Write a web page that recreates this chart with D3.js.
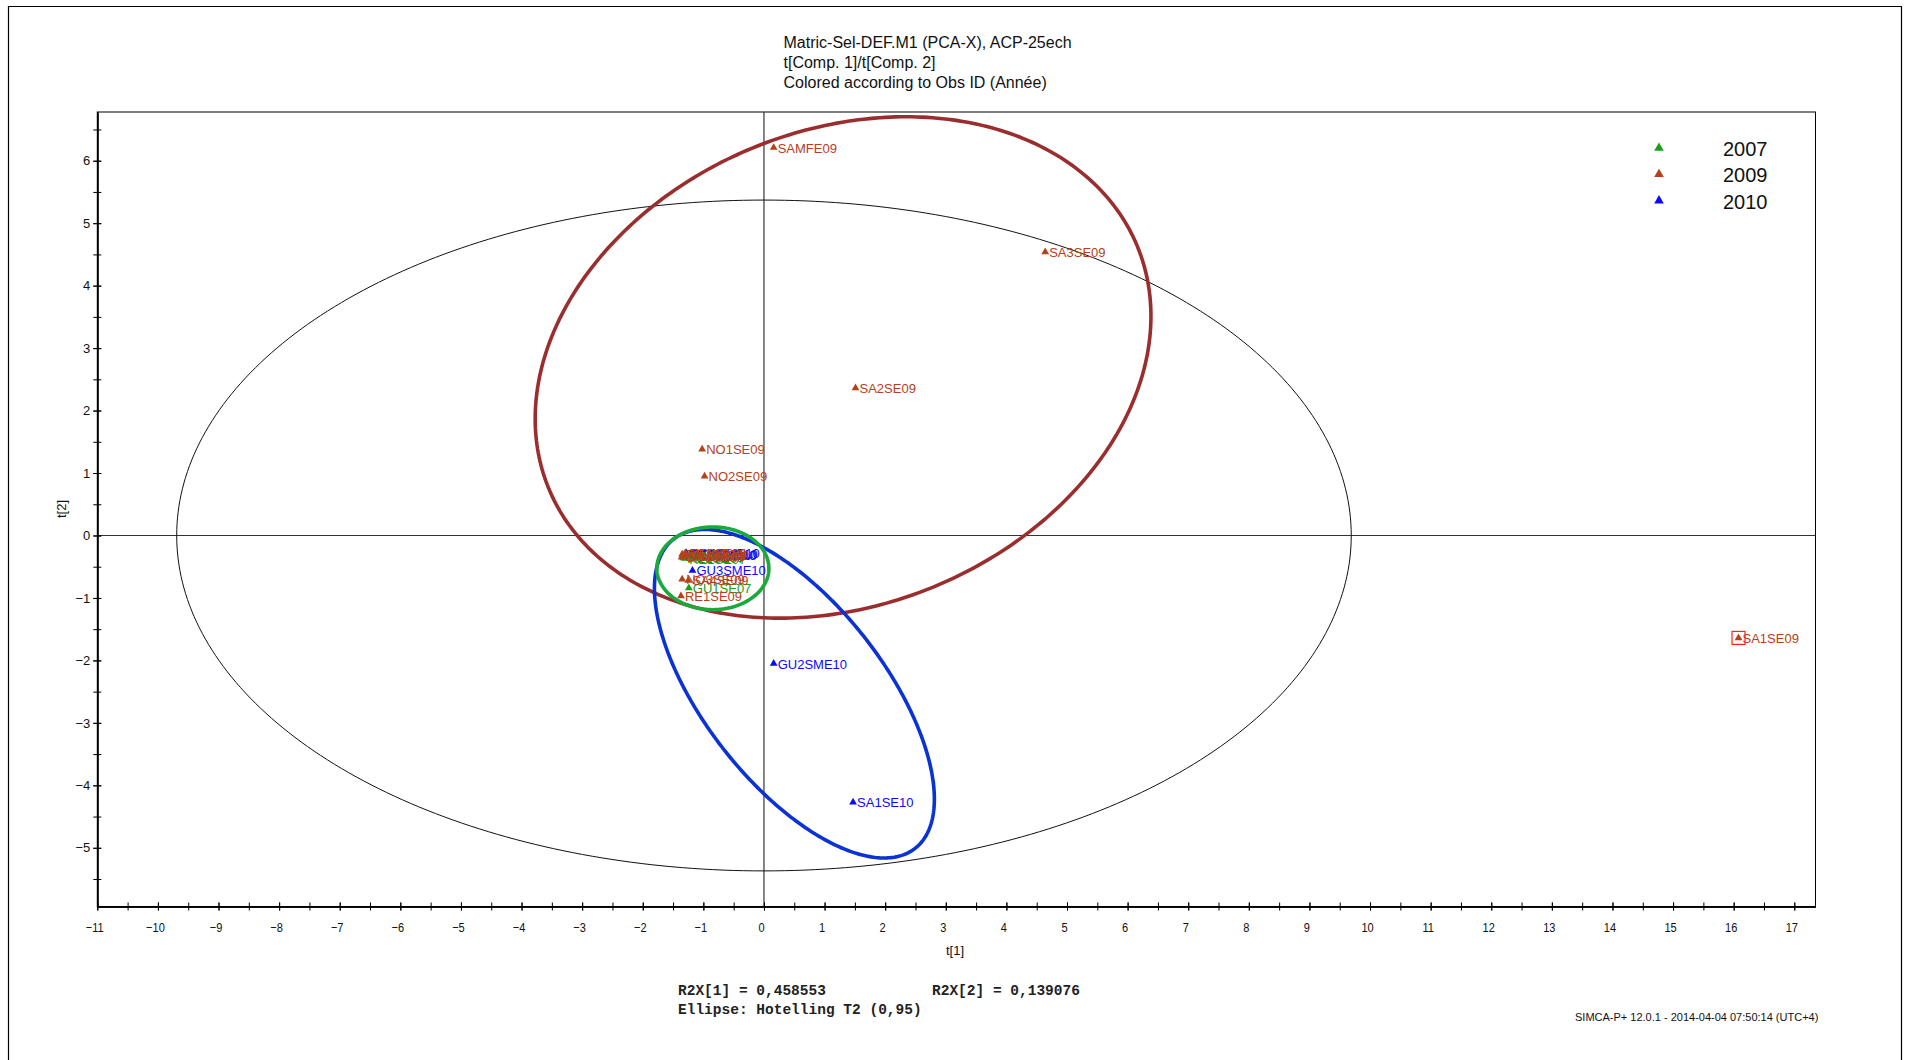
<!DOCTYPE html>
<html><head><meta charset="utf-8">
<script src="https://cdn.jsdelivr.net/npm/d3@7"></script>
<style>
html,body{margin:0;padding:0;background:#fff;}
svg{display:block;}
text{font-family:"Liberation Sans",Arial,sans-serif;}
text.mono{font-family:"Liberation Mono","Courier New",monospace;}
</style></head>
<body>
<svg id="chart" width="1908" height="1060"></svg>
<script>
// ---- data ----
const titleLines = ["Matric-Sel-DEF.M1 (PCA-X), ACP-25ech", "t[Comp. 1]/t[Comp. 2]", "Colored according to Obs ID (Année)"];
const years = ["2007", "2009", "2010"];
const yearColors = ["#17a017", "#b4401c", "#0a0aff"];
const xTicks = d3.range(-11, 18, 1);
const yTicks = d3.range(-5, 7, 1);
const xMinor = d3.range(-11, 17.5, 0.5);
const yMinor = d3.range(-5.5, 7, 0.5);
// observations: name, year, t[1], t[2]
const obsNames = ["RE1SME10","RE2SME10","RE3SME10","GU1SME10","GU3SME10","GU2SME10","SA1SE10",
  "RE1SE07","RE2SE07","RE3SE07","GU1SE07",
  "GU3SE09","GU2SE09","GU1SE09","RE3SE09","RE2SE09","SA4SE09","NO3SE09","RE1SE09",
  "NO2SE09","NO1SE09","SA2SE09","SA3SE09","SAMFE09","SA1SE09"];
const obsYear = ["2010","2010","2010","2010","2010","2010","2010",
  "2007","2007","2007","2007",
  "2009","2009","2009","2009","2009","2009","2009","2009",
  "2009","2009","2009","2009","2009","2009"];
const obsT1 = [-1.32,-1.30,-1.29,-1.28,-1.18,0.16,1.47,
  -1.30,-1.33,-1.31,-1.24,
  -1.36,-1.28,-1.33,-1.30,-1.35,-1.25,-1.35,-1.37,
  -0.98,-1.02,1.51,4.64,0.16,16.08];
const obsT2 = [-0.32,-0.31,-0.29,-0.28,-0.56,-2.05,-4.27,
  -0.37,-0.36,-0.33,-0.84,
  -0.35,-0.31,-0.33,-0.28,-0.30,-0.72,-0.70,-0.97,
  0.95,1.38,2.36,4.54,6.21,-1.64];
const outlierName = "SA1SE09";
// ellipses: centre t1, centre t2, semi-axis a, semi-axis b, angle (deg, data space)
const hotelling = {cx:0, cy:0, a:9.69, b:5.37, ang:0};
const groupEllipses = [
  {cx:1.305, cy:2.69, a:5.23, b:3.816, ang:20.35, color:"#9a2e2e"},
  {cx:0.502, cy:-2.533, a:3.178, b:1.467, ang:-50.75, color:"#0b32d4"},
  {cx:-0.843, cy:-0.526, a:0.924, b:0.662, ang:0, color:"#1aaa3c"}
];
const r2Text1 = "R2X[1] = 0,458553", r2Text2 = "R2X[2] = 0,139076";
const ellText = "Ellipse: Hotelling T2 (0,95)";
const footer = "SIMCA-P+ 12.0.1 - 2014-04-04 07:50:14 (UTC+4)";

// ---- drawing ----
const svg = d3.select("#chart");
const L = 97.3, R = 1815.5, T = 112, B = 906.5;
const x = d3.scaleLinear().domain([-11, 17.35]).range([L, R]);
const y = d3.scaleLinear().domain([-5.94, 6.78]).range([B, T]);
const color = d3.scaleOrdinal().domain(years).range(yearColors);

// page border
svg.append("path").attr("d", "M8.5,1060 L8.5,6.5 L1901.5,6.5 L1901.5,1060")
  .attr("fill","none").attr("stroke","#000").attr("stroke-width",1.2);

// title
svg.append("g").selectAll("text").data(titleLines).join("text")
  .attr("x", 783.5).attr("y", (d,i)=>48 + i*20)
  .attr("font-size", 16).attr("fill","#111").text(d=>d);

// frame
svg.append("rect").attr("x",L).attr("y",T).attr("width",R-L).attr("height",B-T)
  .attr("fill","none").attr("stroke","#000").attr("stroke-width",1);

// zero lines
svg.append("line").attr("x1",x(0)).attr("x2",x(0)).attr("y1",T).attr("y2",B).attr("stroke","#333").attr("stroke-width",1.2);
svg.append("line").attr("x1",L).attr("x2",R).attr("y1",y(0)).attr("y2",y(0)).attr("stroke","#333").attr("stroke-width",1.2);

// axes
const xAxis = svg.append("g").attr("transform",`translate(0,${B})`)
  .call(d3.axisBottom(x).tickValues(xTicks).tickFormat(d3.format("d")).tickSize(4).tickSizeOuter(0).tickPadding(12));
const xMin = svg.append("g").attr("transform",`translate(0,${B})`)
  .call(d3.axisBottom(x).tickValues(xMinor).tickFormat("").tickSize(4).tickSizeOuter(0));
const yAxis = svg.append("g").attr("transform",`translate(${L},0)`)
  .call(d3.axisLeft(y).tickValues(yTicks).tickFormat(d3.format("d")).tickSize(4).tickSizeOuter(0).tickPadding(3));
const yMin = svg.append("g").attr("transform",`translate(${L},0)`)
  .call(d3.axisLeft(y).tickValues(yMinor).tickFormat("").tickSize(4).tickSizeOuter(0));
[xAxis,xMin].forEach(g=>{g.selectAll(".tick line").attr("y1",-4).attr("y2",4).attr("stroke","#000");
  g.select(".domain").attr("stroke","#000").attr("stroke-width",1.6);});
[yAxis,yMin].forEach(g=>{g.selectAll(".tick line").attr("x1",4).attr("x2",-4).attr("stroke","#000");
  g.select(".domain").attr("stroke","#000").attr("stroke-width",1.6);});
[xAxis,yAxis].forEach(g=>g.selectAll(".tick text").attr("font-size",13).attr("fill","#111"));
xAxis.selectAll(".tick text").attr("transform","translate(-3,0) scale(0.85,1)");

svg.append("text").attr("x",955).attr("y",955).attr("text-anchor","middle").attr("font-size",13).attr("fill","#111").text("t[1]");
svg.append("text").attr("transform","translate(66,509) rotate(-90)").attr("text-anchor","middle").attr("font-size",13).attr("fill","#111").text("t[2]");

// ellipses
function ellipsePts(e){
  const th = e.ang*Math.PI/180;
  return d3.range(0, 361, 1).map(t=>{const u=t*Math.PI/180;
    return [e.cx + e.a*Math.cos(u)*Math.cos(th) - e.b*Math.sin(u)*Math.sin(th),
            e.cy + e.a*Math.cos(u)*Math.sin(th) + e.b*Math.sin(u)*Math.cos(th)];});
}
const line = d3.line().x(d=>x(d[0])).y(d=>y(d[1]));
svg.append("path").attr("d", line(ellipsePts(hotelling))).attr("fill","none").attr("stroke","#111").attr("stroke-width",1);

// points
const obs = obsNames.map((n,i)=>({name:n, year:obsYear[i], t1:obsT1[i], t2:obsT2[i]}));
const tri = d3.symbol().type(d3.symbolTriangle).size(26);
const pg = svg.append("g");
const og = pg.selectAll("g").data(obs).join("g").attr("transform",d=>`translate(${x(d.t1)},${y(d.t2)})`);
og.append("path").attr("d",tri).attr("fill",d=>color(d.year));
og.append("text").attr("x",4).attr("y",5).attr("font-size",13).attr("fill",d=>color(d.year)).text(d=>d.name);
og.filter(d=>d.name===outlierName).append("rect").attr("x",-6.5).attr("y",-6.5).attr("width",13).attr("height",13)
  .attr("fill","none").attr("stroke","#ff2020").attr("stroke-width",1.2);

svg.append("g").selectAll("path").data(groupEllipses).join("path")
  .attr("d",d=>line(ellipsePts(d))).attr("fill","none").attr("stroke",d=>d.color).attr("stroke-width",3.6);

// legend
const lg = svg.append("g").selectAll("g").data(years).join("g").attr("transform",(d,i)=>`translate(1659,${148+i*26.3})`);
lg.append("path").attr("d",d3.symbol().type(d3.symbolTriangle).size(40)).attr("fill",d=>color(d));
lg.append("text").attr("x",64).attr("y",8).attr("font-size",20).attr("fill","#111").text(d=>d);

// bottom notes
svg.append("text").attr("class","mono").attr("x",678).attr("y",995).attr("font-size",14.5).attr("font-weight","bold").attr("fill","#222").text(r2Text1);
svg.append("text").attr("class","mono").attr("x",932).attr("y",995).attr("font-size",14.5).attr("font-weight","bold").attr("fill","#222").text(r2Text2);
svg.append("text").attr("class","mono").attr("x",678).attr("y",1014).attr("font-size",14.5).attr("font-weight","bold").attr("fill","#222").text(ellText);
svg.append("text").attr("x",1575).attr("y",1021).attr("font-size",11).attr("fill","#111").text(footer);
</script>
</body></html>
